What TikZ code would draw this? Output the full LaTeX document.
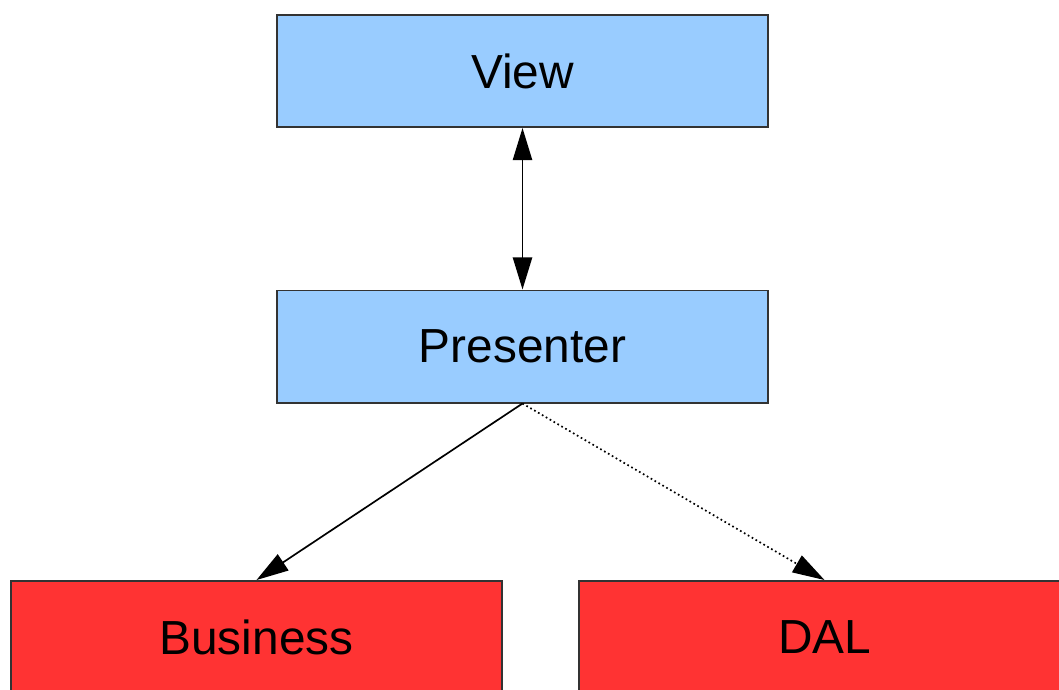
\documentclass[tikz,border=0pt]{standalone}
\usepackage{fontspec}
\setmainfont{Liberation Sans}
\usetikzlibrary{arrows.meta}
\definecolor{uiblue}{HTML}{99CCFF}
\definecolor{dalred}{HTML}{FF3333}
\tikzset{
    layer/.style={draw=black!80, line width=1.4pt, minimum width=12.275cm,
        minimum height=2.8cm, inner sep=0pt,
        font=\fontsize{34}{40}\selectfont},
    uilayer/.style={layer, fill=uiblue},
    datalayer/.style={layer, fill=dalred},
    link/.style={line width=1.2pt, -{Triangle[length=0.8cm, width=0.48cm]}}
}
\begin{document}
\begin{tikzpicture}[x=0.025cm, y=-0.025cm]
\useasboundingbox (0,0) rectangle (1059,690);
\clip (0,0) rectangle (1059,690);
\fill[white] (0,0) rectangle (1059,690);
\node[uilayer] (view) at (522.5,71) {View};
\node[uilayer] (presenter) at (522.5,346.5) {Presenter};
\node[datalayer] (business) at (256.5,637) {Business};
\node[datalayer] (dal) at (824.5,637) {DAL};
% connectors
\draw[link, {Triangle[length=0.8cm, width=0.48cm]}-{Triangle[length=0.8cm, width=0.48cm]}]
    (view.south) -- (presenter.south |- presenter.north);
\draw[link] (presenter.south) -- (business.north);
\draw[link, dotted] (presenter.south) -- (dal.north);
\end{tikzpicture}
\end{document}
